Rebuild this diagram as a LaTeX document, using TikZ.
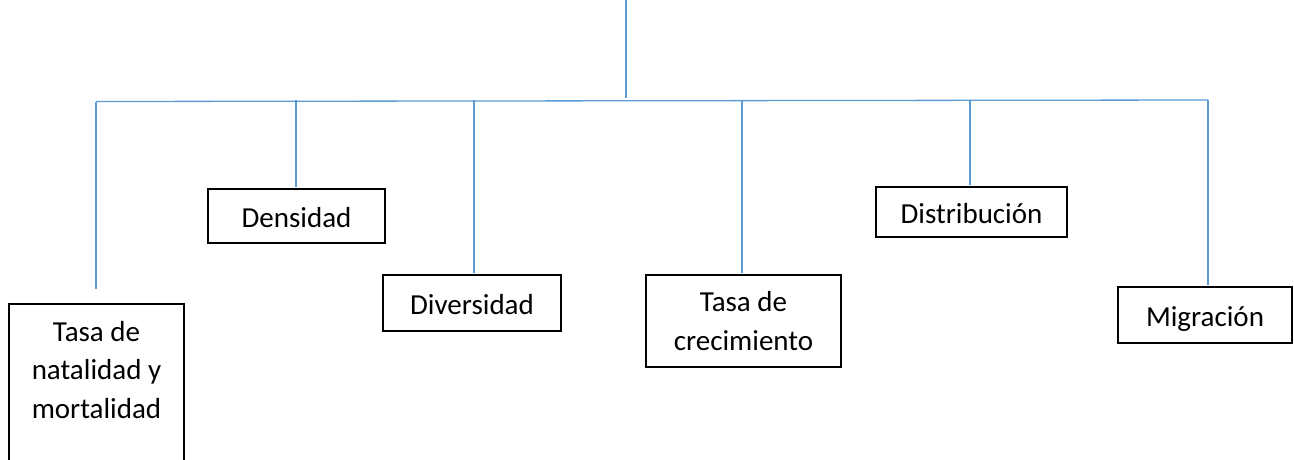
\documentclass[tikz,border=0pt]{standalone}
\usepackage{fontspec}
\setmainfont{Carlito}
\usetikzlibrary{calc}
\definecolor{wordblue}{RGB}{91,155,213}
\begin{document}
\begin{tikzpicture}[x=1pt,y=-1pt,
  box/.style={draw=black, line width=2pt, inner sep=0pt, align=center,
    font=\fontsize{29}{38.5}\selectfont},
  oneline/.style={text height=22pt, text depth=0pt},
  txt/.style={inner sep=0pt, align=center, font=\fontsize{29}{38.5}\selectfont},
  link/.style={draw=wordblue, line width=1.3pt}]
\useasboundingbox (0,0) rectangle (1294,459);
\clip (0,0) rectangle (1294,459);

% boxes
\node[box, minimum width=175pt, minimum height=220pt, anchor=north] (nat) at (96.5,303) {};
\node[txt, anchor=north] (natTxt) at (96.5,321) {Tasa de\\natalidad y\\mortalidad};
\node[box, oneline, minimum width=177pt, minimum height=54pt] (dens) at (296.5,216) {Densidad};
\node[box, oneline, minimum width=178pt, minimum height=56pt] (div) at (472,303) {Diversidad};
\node[box, minimum width=195pt, minimum height=92pt] (crec) at (743.5,321) {Tasa de\\crecimiento};
\node[box, oneline, minimum width=191pt, minimum height=50pt] (dist) at (971.5,212) {Distribución};
\node[box, oneline, minimum width=174pt, minimum height=56pt] (mig) at (1205,315) {Migración};

% connectors
\coordinate (top) at (626,0);
\coordinate (hub) at (626,98);
\coordinate (busL) at (96,101.5);
\coordinate (busR) at (1208,100);
\draw[link] (top) -- (hub);
\draw[link] (busL) -- (busR);
\draw[link] (busL) -- ([yshift=14pt]busL |- nat.north);
\draw[link] ([xshift=-0.5pt]dens.north |- busR) -- ([xshift=-0.5pt,yshift=1.5pt]dens.north);
\draw[link] ([xshift=2pt]div.north |- busR) -- ([xshift=2pt,yshift=1pt]div.north);
\draw[link] ([xshift=-1.5pt]crec.north |- busR) -- ([xshift=-1.5pt,yshift=1pt]crec.north);
\draw[link] ([xshift=-1.5pt]dist.north |- busR) -- ([xshift=-1.5pt,yshift=1.5pt]dist.north);
\draw[link] (busR) -- ([yshift=1pt]busR |- mig.north);
\end{tikzpicture}
\end{document}
